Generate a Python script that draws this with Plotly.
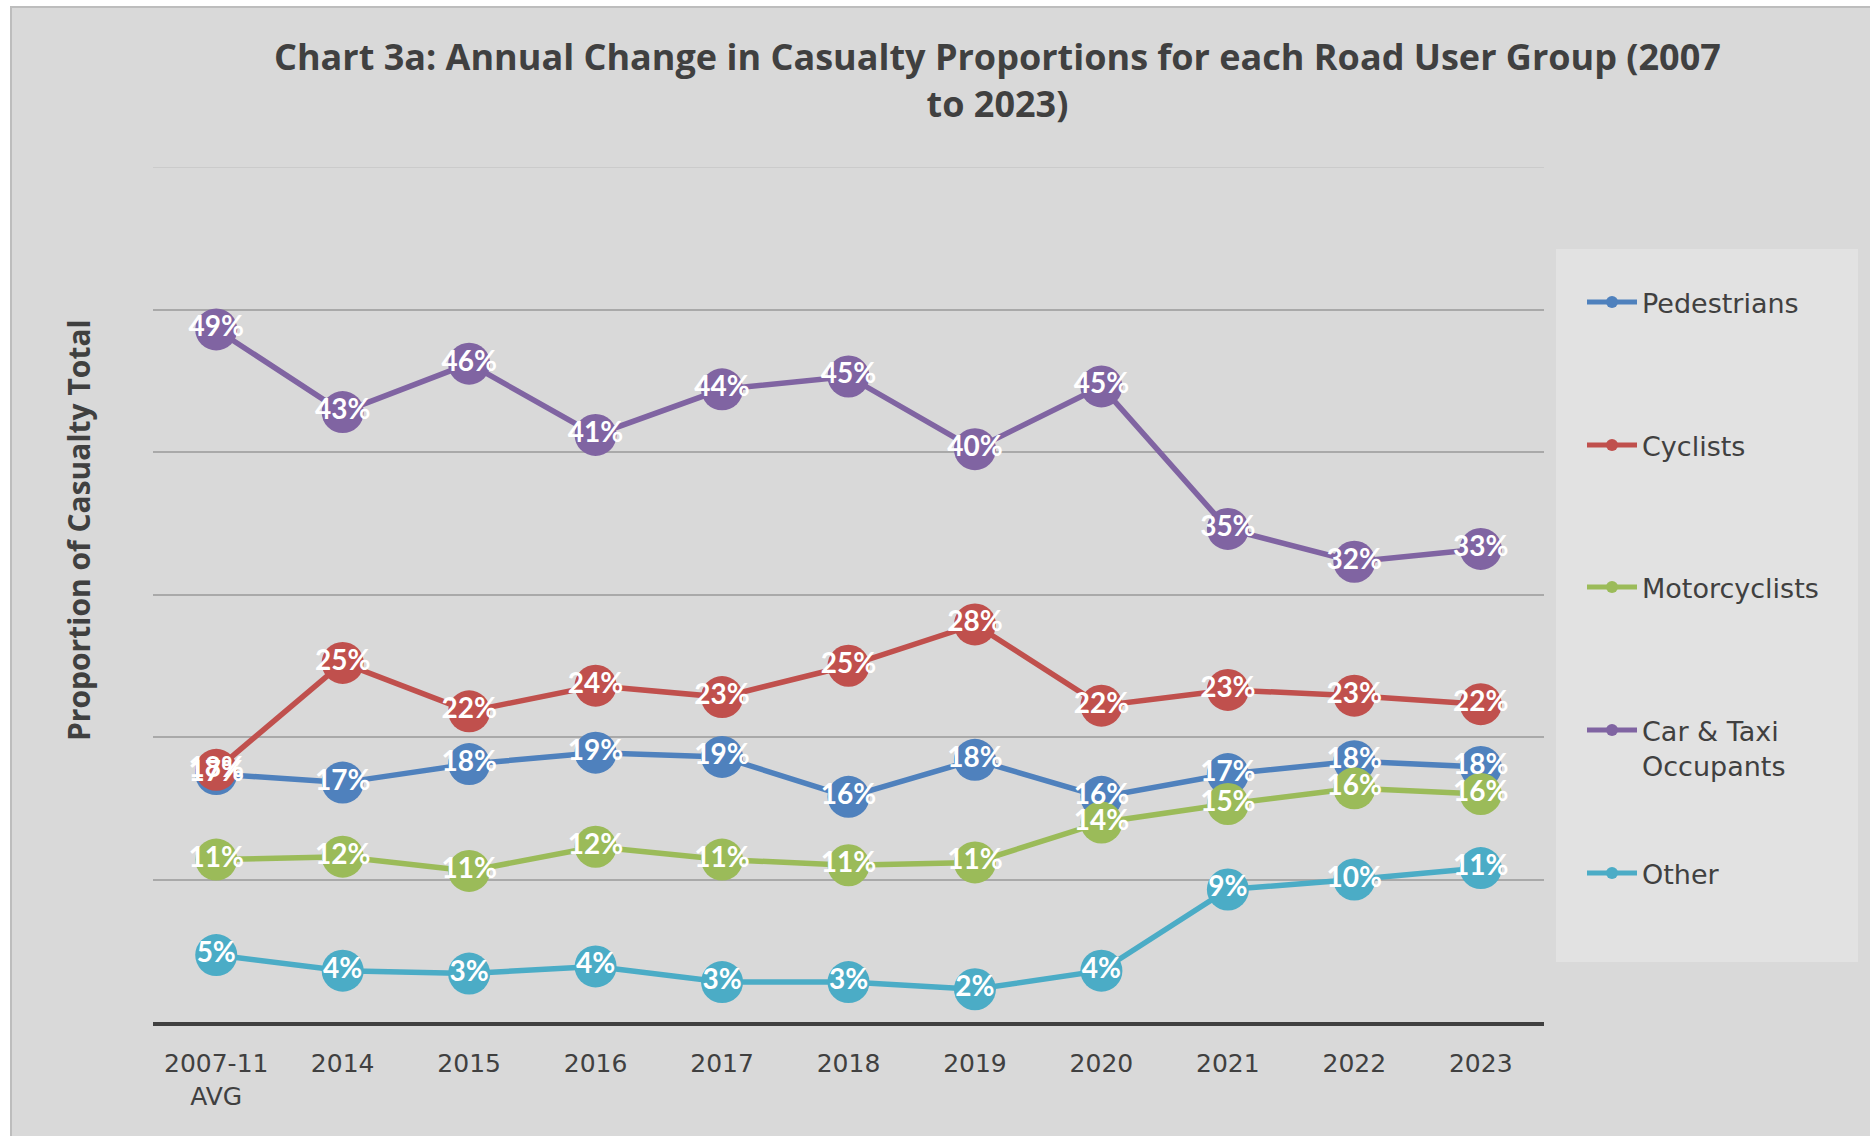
import plotly.graph_objects as go

# Road user casualty shares (% of all casualties) by year
years = ["2007-11<br>AVG", "2014", "2015", "2016", "2017", "2018",
         "2019", "2020", "2021", "2022", "2023"]
pedestrians = [17.4, 16.8, 18.1, 18.9, 18.6, 15.8, 18.4, 15.8, 17.4, 18.3, 17.9]
cyclists = [17.7, 25.2, 21.8, 23.6, 22.8, 25.0, 27.9, 22.2, 23.3, 22.9, 22.3]
motorcyclists = [11.4, 11.6, 10.6, 12.3, 11.4, 11.0, 11.2, 14.0, 15.3, 16.4, 16.0]
car_taxi = [48.6, 42.8, 46.2, 41.2, 44.4, 45.3, 40.2, 44.6, 34.6, 32.3, 33.2]
other = [4.7, 3.6, 3.4, 3.9, 2.8, 2.8, 2.3, 3.6, 9.3, 10.0, 10.8]

series_names = ["Pedestrians", "Cyclists", "Motorcyclists",
                "Car & Taxi<br>Occupants", "Other"]
series_values = [pedestrians, cyclists, motorcyclists, car_taxi, other]
series_colors = ["#4f81bd", "#c0504d", "#9bbb59", "#8064a2", "#4bacc6"]

chart_title = ("Chart 3a: Annual Change in Casualty Proportions for each Road User Group (2007"
               "<br>to 2023)")
y_title = "Proportion of Casualty Total"

# page geometry (pixels) used to place decorations in paper coordinates
W, H = 1870, 1136
L, R, T, B = 153, 326, 167, 114
PW, PH = W - L - R, H - T - B


def px_x(px):
    return (px - L) / PW


def px_y(py):
    return (H - B - py) / PH


fig = go.Figure()

legend_ids = ["legend", "legend2", "legend3", "legend4", "legend5"]
for name, vals, col, lg in zip(series_names, series_values, series_colors, legend_ids):
    fig.add_trace(go.Scatter(
        x=years, y=vals, name=name, mode="lines+markers",
        line=dict(color=col, width=5.5),
        marker=dict(color=col, size=42),
        legend=lg,
        hoverinfo="skip",
    ))

# value labels sit on top of every marker
for vals in series_values:
    fig.add_trace(go.Scatter(
        x=years, y=vals, mode="text",
        texttemplate="%{y:.0f}%", textposition="middle center",
        textfont=dict(family="Lato", size=28, color="white", weight="bold"),
        showlegend=False, hoverinfo="skip",
    ))

shapes = [
    # white page strips and frame
    dict(type="rect", xref="paper", yref="paper", x0=px_x(0), x1=px_x(W),
         y0=px_y(0), y1=px_y(6), fillcolor="white", line_width=0, layer="below"),
    dict(type="rect", xref="paper", yref="paper", x0=px_x(0), x1=px_x(10),
         y0=px_y(0), y1=px_y(H), fillcolor="white", line_width=0, layer="below"),
    dict(type="line", xref="paper", yref="paper", x0=px_x(10), x1=px_x(W),
         y0=px_y(7), y1=px_y(7), line=dict(color="#bdbdbd", width=2)),
    dict(type="line", xref="paper", yref="paper", x0=px_x(11), x1=px_x(11),
         y0=px_y(7), y1=px_y(H), line=dict(color="#bdbdbd", width=2)),
    # legend panel
    dict(type="rect", xref="paper", yref="paper", x0=px_x(1556), x1=px_x(1858),
         y0=px_y(962), y1=px_y(249), fillcolor="#e2e2e2", line_width=0, layer="below"),
    # faint top gridline
    dict(type="line", xref="paper", yref="y", x0=0, x1=1, y0=60, y1=60,
         line=dict(color="#cbcbcb", width=2), layer="below"),
]

legend_centers = [303, 446, 588, 731, 874]
legend_layout = {}
for lg, cy in zip(legend_ids, legend_centers):
    legend_layout[lg] = dict(
        x=px_x(1582), xanchor="left", y=px_y(cy - 25), yanchor="top",
        bgcolor="rgba(0,0,0,0)", borderwidth=0, itemsizing="constant",
        itemwidth=50, valign="top",
        font=dict(family="DejaVu Sans", size=27, color="#404040"),
    )

fig.update_layout(
    width=W, height=H,
    margin=dict(l=L, r=R, t=T, b=B, autoexpand=False),
    paper_bgcolor="#d9d9d9", plot_bgcolor="#d9d9d9",
    xaxis=dict(
        type="category", range=[-0.5, 10.5], showgrid=False,
        showline=True, linecolor="#404040", linewidth=4,
        ticks="outside", ticklen=16, tickcolor="rgba(0,0,0,0)",
        tickfont=dict(family="DejaVu Sans", size=25, color="#404040"),
        zeroline=False,
    ),
    yaxis=dict(
        range=[0, 60], tickvals=[10, 20, 30, 40, 50], showticklabels=False,
        showgrid=True, gridcolor="#a9a9a9", gridwidth=2,
        zeroline=False, showline=False,
    ),
    shapes=shapes,
    annotations=[
        dict(
            text=chart_title, xref="paper", yref="paper",
            x=px_x(997), y=px_y(80), xanchor="center", yanchor="middle",
            showarrow=False,
            font=dict(family="Open Sans", size=36, color="#404040", weight="bold"),
        ),
        dict(
            text=y_title, textangle=-90,
            xref="paper", yref="paper", x=px_x(78), y=px_y(530),
            xanchor="center", yanchor="middle", showarrow=False,
            font=dict(family="Open Sans", size=30, color="#404040", weight="bold"),
        ),
    ],
    **legend_layout,
)

fig.write_html("out.html")
